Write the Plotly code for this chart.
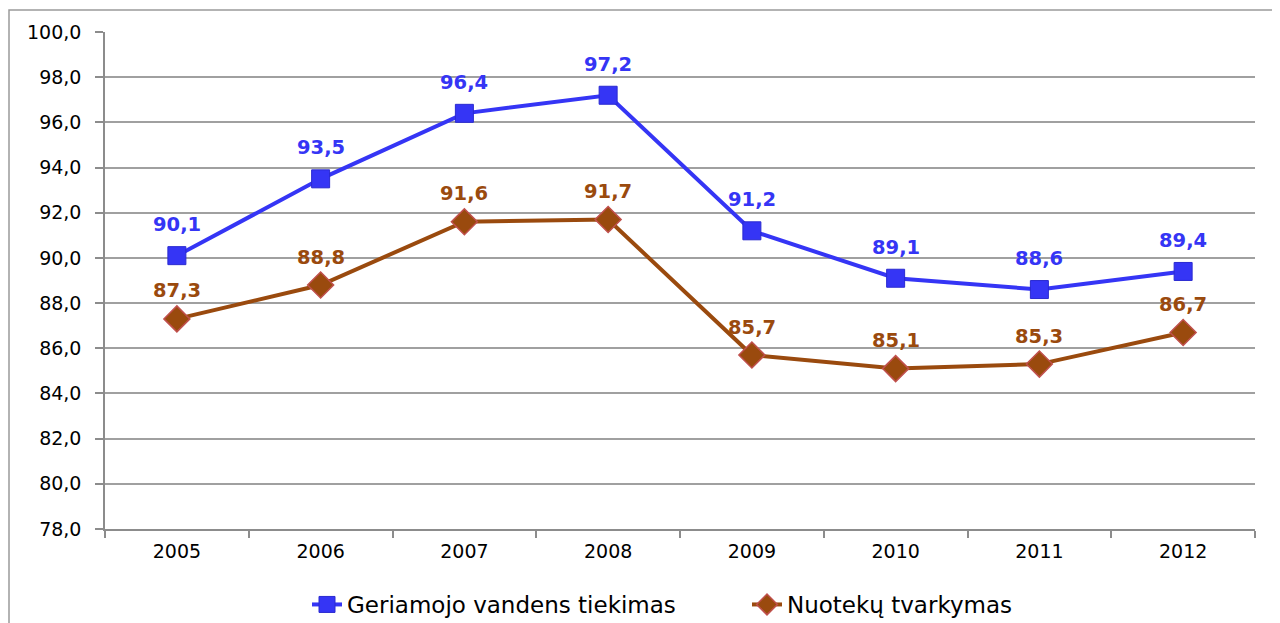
import plotly.graph_objects as go

years = ["2005", "2006", "2007", "2008", "2009", "2010", "2011", "2012"]
water = [90.1, 93.5, 96.4, 97.2, 91.2, 89.1, 88.6, 89.4]
sewage = [87.3, 88.8, 91.6, 91.7, 85.7, 85.1, 85.3, 86.7]
name_water = "Geriamojo vandens tiekimas"
name_sewage = "Nuotekų tvarkymas"

BLUE = "#3535F5"
BROWN = "#9A4A0E"
FONT = "DejaVu Sans"

fig = go.Figure()
fig.add_trace(go.Scatter(
    x=years, y=water, name=name_water, mode="lines+markers",
    line=dict(color=BLUE, width=4),
    marker=dict(symbol="square", size=18, color=BLUE, line=dict(color="#2a2ad0", width=1)),
))
fig.add_trace(go.Scatter(
    x=years, y=sewage, name=name_sewage, mode="lines+markers",
    line=dict(color=BROWN, width=4),
    marker=dict(symbol="diamond", size=20, color=BROWN, line=dict(color="#C0504D", width=1.5)),
))

# annotations placed by category index on the category axis
for i, yv in enumerate(water):
    fig.add_annotation(x=i, y=yv, xref="x", yref="y",
                       text="<b>" + f"{yv:.1f}".replace(".", ",") + "</b>",
                       showarrow=False, yshift=31,
                       font=dict(family=FONT, size=19.5, color=BLUE))
for i, yv in enumerate(sewage):
    fig.add_annotation(x=i, y=yv, xref="x", yref="y",
                       text="<b>" + f"{yv:.1f}".replace(".", ",") + "</b>",
                       showarrow=False, yshift=28,
                       font=dict(family=FONT, size=19.5, color=BROWN))

L, R, T, B = 97, 1247, 24, 521
PW, PH = R - L, B - T

fig.update_layout(
    width=1280, height=623,
    margin=dict(l=L, r=1280 - R, t=T, b=623 - B, autoexpand=False),
    paper_bgcolor="white", plot_bgcolor="white",
    separators=", ",
    font=dict(family=FONT, size=19, color="black"),
    showlegend=True,
    legend=dict(orientation="h", x=(299 - L) / PW, xanchor="left",
                y=-(54 / PH), yanchor="top",
                font=dict(family=FONT, size=23, color="black"),
                entrywidth=395, entrywidthmode="pixels",
                bgcolor="rgba(0,0,0,0)"),
    shapes=[dict(type="rect", xref="paper", yref="paper",
                 x0=(1 - L) / PW, x1=(1300 - L) / PW,
                 y0=-(640 - B) / PH, y1=(B - 2) / PH,
                 line=dict(color="#9a9a9a", width=1.5), fillcolor="rgba(0,0,0,0)", layer="below")],
)
fig.update_xaxes(
    type="category", showgrid=False, showline=True, linecolor="#8c8c8c", linewidth=1.5,
    ticks="outside", tickson="boundaries", ticklen=7, tickcolor="#8c8c8c", tickwidth=1.5,
    tickfont=dict(family=FONT, size=19, color="black"), range=[-0.5, 7.5],
    ticklabelstandoff=4,
)
fig.update_yaxes(
    range=[78, 100], dtick=2, tick0=78, tickformat=".1f",
    showgrid=True, gridcolor="#a0a0a0", gridwidth=1.5,
    showline=True, linecolor="#8c8c8c", linewidth=1.5,
    ticks="outside", ticklen=8, tickcolor="#8c8c8c", tickwidth=1.5,
    tickfont=dict(family=FONT, size=19, color="black"), zeroline=False,
    ticklabelstandoff=10,
)

fig.write_html("out.html")
